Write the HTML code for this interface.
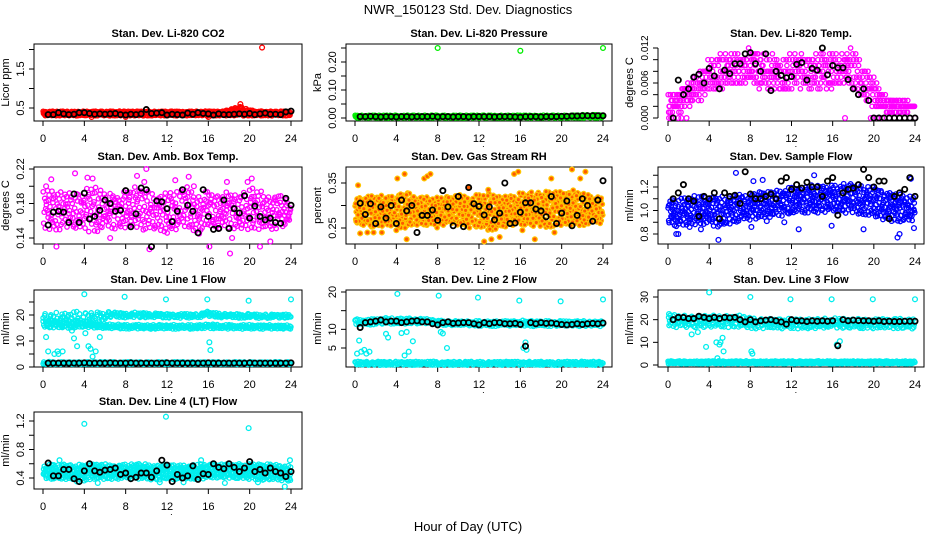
<!DOCTYPE html>
<html><head><meta charset="utf-8"><title>NWR_150123 Std. Dev. Diagnostics</title>
<style>
html,body{margin:0;padding:0;background:#fff;}
svg{display:block;font-family:"Liberation Sans",sans-serif;}
</style></head>
<body>
<svg id="chart" width="936" height="540" viewBox="0 0 936 540" xmlns="http://www.w3.org/2000/svg">
<text x="468" y="14" text-anchor="middle" font-size="13">NWR_150123 Std. Dev. Diagnostics</text>
<text x="468" y="531" text-anchor="middle" font-size="13">Hour of Day (UTC)</text>
</svg>
<script>
// ---------- DATA ----------
const co2Lo=[0.3,0.3,0.3,0.3,0.3,0.3,0.3,0.3,0.3,0.3,0.3,0.3,0.3,0.3,0.3,0.3,0.3,0.3,0.3,0.3,0.3,0.3,0.3,0.3,0.3];
const co2Hi=[0.42,0.42,0.42,0.42,0.42,0.42,0.42,0.42,0.42,0.42,0.42,0.42,0.42,0.42,0.42,0.42,0.42,0.42,0.45,0.56,0.45,0.42,0.42,0.42,0.42];
const co2OutX=[21.2,19.1,4.7,8.0,16.0];
const co2OutY=[2.05,0.6,0.27,0.27,0.27];
const co2Black=[0.33,0.33,0.38,0.35,0.33,0.34,0.38,0.38,0.36,0.34,0.35,0.34,0.35,0.36,0.33,0.32,0.34,0.33,0.35,0.46,0.36,0.37,0.38,0.32,0.34,0.33,0.32,0.37,0.34,0.38,0.36,0.35,0.32,0.35,0.33,0.33,0.34,0.35,0.34,0.36,0.33,0.35,0.37,0.34,0.34,0.33,0.4,0.42];

const presLo=[0,0,0,0,0,0,0,0,0,0,0,0,0,0,0,0,0,0,0,0,0,0,0,0,0];
const presHi=[0.01,0.01,0.01,0.01,0.01,0.01,0.01,0.01,0.01,0.01,0.01,0.01,0.01,0.01,0.01,0.01,0.01,0.01,0.01,0.01,0.01,0.01,0.012,0.012,0.012];
const presOutX=[8,16,24];
const presOutY=[0.25,0.24,0.25];
const presBlack=[0.005,0.005,0.006,0.005,0.004,0.005,0.005,0.004,0.005,0.005,0.004,0.005,0.005,0.005,0.006,0.004,0.005,0.005,0.004,0.005,0.005,0.004,0.005,0.005,0.005,0.005,0.004,0.005,0.005,0.005,0.004,0.003,0.005,0.005,0.005,0.004,0.005,0.005,0.005,0.006,0.006,0.007,0.007,0.008,0.008,0.008,0.008,0.008];

const tempLo=[0.001,0.001,0.002,0.003,0.004,0.005,0.005,0.006,0.006,0.005,0.005,0.004,0.005,0.005,0.005,0.005,0.005,0.006,0.005,0.003,0.002,0.001,0.001,0.001,0.002];
const tempHi=[0.004,0.005,0.006,0.008,0.010,0.011,0.011,0.011,0.012,0.011,0.011,0.010,0.011,0.011,0.011,0.011,0.011,0.011,0.012,0.009,0.007,0.004,0.003,0.003,0.002];
const tempOutX=[0.1,0.3,1.0,1.3,1.8,17.2,19.7,20.0,20.3,20.8,21.5,22,22.5,23,23.5,24];
const tempOutY=[0,0,0,0,0,0,0,0,0,0,0,0,0,0,0,0];
const tempBlack=[0,0.0065,0.004,0.005,0.007,0.0075,0.006,0.0085,0.0072,0.005,0.0082,0.0076,0.0093,0.0093,0.011,0.0112,0.0093,0.008,0.011,0.0047,0.008,0.0073,0.0069,0.0071,0.0092,0.0095,0.0065,0.0085,0.0082,0.012,0.0074,0.009,0.0086,0.0086,0.0066,0.005,0.004,0.005,0.003,0,0,0,0,0,0,0,0,0];

const boxLo=[0.15,0.148,0.15,0.15,0.148,0.145,0.15,0.15,0.152,0.148,0.15,0.148,0.145,0.148,0.15,0.148,0.15,0.15,0.15,0.15,0.148,0.15,0.15,0.15,0.16];
const boxHi=[0.195,0.2,0.195,0.19,0.2,0.2,0.195,0.19,0.195,0.2,0.195,0.19,0.195,0.195,0.2,0.19,0.195,0.19,0.195,0.19,0.2,0.195,0.19,0.19,0.18];
const boxOutX=[0.8,1.3,3.1,4.3,4.8,9.1,9.8,10.3,12.8,14.1,14.6,16.1,17.8,18.1,18.3,19.8,20.2,21.0,22.0,0.3,6.5,15.1,10.0];
const boxOutY=[0.208,0.13,0.215,0.21,0.209,0.212,0.205,0.127,0.207,0.211,0.2,0.13,0.205,0.122,0.14,0.205,0.209,0.13,0.136,0.2,0.14,0.145,0.22];
const boxBlack=[0.155,0.17,0.171,0.17,0.158,0.191,0.158,0.192,0.162,0.165,0.172,0.184,0.18,0.171,0.172,0.195,0.153,0.168,0.198,0.196,0.13,0.183,0.182,0.174,0.159,0.171,0.196,0.178,0.171,0.146,0.196,0.165,0.15,0.151,0.184,0.151,0.174,0.169,0.189,0.163,0.177,0.165,0.161,0.163,0.158,0.157,0.186,0.178];

const rhLo=[0.26,0.255,0.25,0.255,0.25,0.25,0.255,0.255,0.25,0.26,0.255,0.25,0.25,0.24,0.25,0.255,0.255,0.255,0.25,0.25,0.255,0.255,0.255,0.26,0.26];
const rhHi=[0.32,0.32,0.325,0.32,0.325,0.33,0.32,0.32,0.32,0.32,0.325,0.32,0.325,0.33,0.32,0.325,0.33,0.33,0.33,0.335,0.33,0.335,0.33,0.32,0.32];
const rhOutX=[0.3,0.5,1.2,1.8,2.6,4.1,4.8,5.0,6.7,7.0,7.3,11.0,12.5,13.2,14.0,15.4,15.8,17.4,19.0,19.3,21.0,21.8,22.3,4.0,16.2,12.9];
const rhOutY=[0.345,0.238,0.24,0.24,0.24,0.36,0.37,0.225,0.36,0.365,0.37,0.34,0.22,0.225,0.23,0.37,0.375,0.225,0.36,0.24,0.38,0.36,0.375,0.245,0.245,0.335];
const rhBlack=[0.305,0.28,0.304,0.26,0.297,0.272,0.3,0.26,0.312,0.288,0.3,0.24,0.278,0.278,0.29,0.267,0.333,0.297,0.255,0.32,0.253,0.34,0.304,0.298,0.279,0.297,0.268,0.283,0.35,0.26,0.261,0.285,0.306,0.306,0.292,0.288,0.275,0.32,0.26,0.283,0.31,0.255,0.278,0.315,0.3,0.265,0.312,0.355];

const flowLo=[0.88,0.86,0.87,0.88,0.87,0.86,0.88,0.9,0.92,0.93,0.94,0.95,0.97,0.97,0.98,0.98,0.99,0.98,0.97,0.96,0.93,0.92,0.9,0.9,0.92];
const flowHi=[1.1,1.1,1.12,1.13,1.12,1.12,1.13,1.14,1.15,1.16,1.17,1.18,1.2,1.2,1.22,1.22,1.22,1.23,1.23,1.22,1.2,1.18,1.15,1.13,1.12];
const flowOutX=[0.8,1.0,4.9,6.6,8.1,8.3,9.2,12.7,14.2,15.9,19.0,22.3,22.5,23.9,3.2,2.1,23.6,11.3,9.6];
const flowOutY=[0.8,0.8,0.75,1.32,0.86,1.25,1.26,0.84,1.3,0.87,0.84,0.77,0.8,0.85,0.84,0.86,1.27,0.9,0.91];
const flowBlack=[1.1,1.15,1.22,1.1,1.08,0.95,1.12,1.1,1.15,0.93,1.15,1.12,1.13,1.06,1.33,1.14,1.1,1.1,1.12,1.14,1.1,1.25,1.28,1.18,1.22,1.19,1.24,1.2,1.2,1.12,1.25,1.28,0.96,1.15,1.18,1.19,1.22,1.35,1.28,1.2,1.25,1.25,0.93,1.12,1.15,1.18,1.28,1.12];

const l1ALo=[15,15,15,15,15,16,18.5,19,19,19,19,19,18.8,18.8,18.8,19,19.5,19,19,18.8,18.8,18.8,18.8,18.8,18.8];
const l1AHi=[21,21,21,21.5,21.5,21,21.5,21,21,21,20.8,20.8,20.5,20.5,20.5,20.5,21.5,20.8,20.5,20.5,20.5,20.3,20.3,20.3,20.3];
const l1BLo=[15,15,15,15,15,15,14.8,14.8,14.6,14.6,14.6,14.6,14.6,14.6,14.6,14.6,14.8,14.6,14.6,14.6,14.6,14.6,14.6,14.6,14.6];
const l1BHi=[18,18,18,18,18,17,16.6,16.5,16.4,16.3,16.3,16.3,16.3,16.3,16.3,16.3,16.6,16.3,16.3,16.3,16.3,16.2,16.2,16.2,16.2];
const l1CLo=[1,1,1,1,1,1,1,1,1,1,1,1,1,1,1,1,1,1,1,1,1,1,1,1,1];
const l1CHi=[2,2,2,2,2,2,2,2,2,2,2,2,2,2,2,2,2,2,2,2,2,2,2,2,2];
const l1OutX=[0.3,0.5,0.6,1.1,1.4,2.8,3.0,3.3,4.0,4.1,4.4,4.6,4.8,5.1,5.5,7.9,11.9,15.9,16.1,16.2,19.9,24.0,1.5,1.9];
const l1OutY=[11.5,6,2,5,6,14,11,8,28,13,8,7,4,6,11.5,27,26,26,9.5,6.5,25.5,26,5,6];
const l1Black=[1.5,1.5,1.5,1.5,1.5,1.5,1.5,1.6,1.5,1.5,1.5,1.5,1.6,1.5,1.5,1.5,1.6,1.5,1.5,1.5,1.5,1.5,1.5,1.6,1.5,1.5,1.5,1.5,1.5,1.5,1.5,1.6,1.5,1.5,1.5,1.5,1.5,1.5,1.5,1.6,1.5,1.5,1.5,1.5,1.5,1.5,1.5,1.6];

const l2ALo=[11.3,11,11.3,11.5,11.3,11.5,11.5,11.5,11.3,11,11,11,10.8,10.8,10.8,10.8,11,10.8,10.8,10.8,10.8,10.8,10.8,10.8,10.8];
const l2AHi=[13,12.5,13,13.2,13,13,13,12.8,12.5,12.3,12.3,12.3,12.3,12.3,12.3,12.3,12.5,12.3,12.3,12.3,12.3,12.3,12.3,12.3,12.3];
const l2BLo=[0.4,0.4,0.4,0.4,0.4,0.4,0.4,0.4,0.4,0.4,0.4,0.4,0.4,0.4,0.4,0.4,0.4,0.4,0.4,0.4,0.4,0.4,0.4,0.4,0.4];
const l2BHi=[1.4,1.4,1.4,1.4,1.4,1.4,1.4,1.4,1.4,1.4,1.4,1.4,1.4,1.4,1.4,1.4,1.4,1.4,1.4,1.4,1.4,1.4,1.4,1.4,1.4];
const l2OutX=[0.2,0.4,0.6,0.9,1.1,1.4,3.0,3.2,4.1,4.5,4.8,5.0,5.2,5.6,8.1,8.3,8.5,8.9,11.9,15.9,16.3,16.5,16.6,19.9,24.0];
const l2OutY=[3.5,7,4,4.5,3.5,4,8.8,7.8,19.5,9,3,9.3,4,6.8,19,9.3,8.9,5,18.5,17.7,5,6.5,4.5,17.5,18];
const l2Black=[10.5,11.8,12,12.2,12.5,12,12.2,12.2,11.8,12,12.2,12.3,12,12,11.5,11.2,11.8,12,11.6,11.7,11.8,11.8,11.5,11.2,11.8,11.5,11.8,11.8,11.5,11.5,11.6,11.3,5.5,11.8,11.5,11.8,11.6,11.7,11.5,11.3,11.2,11.3,11.5,11.3,11.5,11.6,11.5,11.7];

const l3ALo=[17,16.5,16.5,16.5,16.5,16.5,16.5,16.5,16,16,16,16,16,16,16,16,16.5,16,16,16,16,16,16,16,16];
const l3AHi=[22.5,22,22,22,22,22,22,22,21,20.5,20.5,20.5,20.5,20.5,20.5,20.5,21,20.5,20.5,20.5,20.5,20.5,20.5,20.5,20.5];
const l3BLo=[0.5,0.5,0.5,0.5,0.5,0.5,0.5,0.5,0.5,0.5,0.5,0.5,0.5,0.5,0.5,0.5,0.5,0.5,0.5,0.5,0.5,0.5,0.5,0.5,0.5];
const l3BHi=[1.8,1.8,1.8,1.8,1.8,1.8,1.8,1.8,1.8,1.8,1.8,1.8,1.8,1.8,1.8,1.8,1.8,1.8,1.8,1.8,1.8,1.8,1.8,1.8,1.8];
const l3OutX=[0.1,2.3,2.9,3.7,4.0,4.7,5.0,5.1,5.3,5.4,8.0,8.1,8.2,11.9,15.9,16.4,16.7,19.9,24.0,4.8,2.0];
const l3OutY=[22.5,13.5,14.5,8,32,10,9,10,12,6,30,6,5,29,29,9,10.5,29,29,3,18];
const l3Black=[20,21,21,20.5,20.5,21.5,21,20.5,21,20.5,21,20.8,21,20,19,20,19,19.5,19.8,20,19.5,19,18,20,19.5,19.5,19.2,19.5,19.3,19.5,19.3,19.5,8.5,20,19.5,19.8,19.6,19.5,19.5,19.3,19.5,19.2,19.3,19.2,19.2,19.3,19.3,19.3];

const l4Lo=[0.4,0.38,0.38,0.37,0.36,0.38,0.38,0.38,0.4,0.38,0.38,0.37,0.38,0.38,0.38,0.38,0.4,0.4,0.4,0.38,0.38,0.37,0.37,0.36,0.36];
const l4Hi=[0.57,0.6,0.6,0.58,0.6,0.6,0.6,0.58,0.6,0.6,0.6,0.58,0.6,0.58,0.58,0.6,0.6,0.6,0.6,0.6,0.6,0.6,0.6,0.58,0.58];
const l4OutX=[4.0,11.9,19.9,1.6,5.3,11.3,13.6,15.3,17.6,23.4,23.9,3.3,20.8];
const l4OutY=[1.16,1.26,1.1,0.65,0.33,0.34,0.34,0.65,0.33,0.28,0.65,0.35,0.34];
const l4Black=[0.61,0.43,0.43,0.52,0.52,0.39,0.35,0.5,0.6,0.5,0.48,0.51,0.52,0.54,0.45,0.47,0.39,0.41,0.47,0.47,0.41,0.5,0.65,0.58,0.35,0.45,0.4,0.43,0.57,0.38,0.46,0.45,0.6,0.55,0.53,0.6,0.55,0.49,0.54,0.63,0.49,0.52,0.47,0.54,0.49,0.47,0.42,0.49];

const xTickLabels=["0","4","8","12","16","20","24"];

// ---------- LAYOUT ----------
const NS="http://www.w3.org/2000/svg";
const svg=document.getElementById('chart');
function mk(tag,attrs,parent){const e=document.createElementNS(NS,tag);for(const k in attrs)e.setAttribute(k,attrs[k]);(parent||svg).appendChild(e);return e;}

const panels=[
 {key:'co2',title:'Stan. Dev. Li-820 CO2',ytitle:'Licor ppm',col:0,top:44,bot:121,y1:[0.5,108],y2:[1.5,69],ticks:[0.5,1,1.5,2],labels:[0.5,1.5],fmt:1,color:'#ff0000',n:700,bands:[[co2Lo,co2Hi]],ox:co2OutX,oy:co2OutY,black:co2Black,box:true},
 {key:'pres',title:'Stan. Dev. Li-820 Pressure',ytitle:'kPa',col:1,top:44,bot:121,y1:[0,118],y2:[0.2,62],ticks:[0,0.05,0.1,0.15,0.2,0.25],labels:[0,0.1,0.2],fmt:2,color:'#00ee00',n:500,bands:[[presLo,presHi]],ox:presOutX,oy:presOutY,black:presBlack,box:true},
 {key:'temp',title:'Stan. Dev. Li-820 Temp.',ytitle:'degrees C',col:2,top:44,bot:121,y1:[0,118],y2:[0.012,48],ticks:[0,0.002,0.004,0.006,0.008,0.01,0.012],labels:[0,0.006,0.012],fmt:3,lfs:10,color:'#ff00ff',n:520,quant:0.001,bands:[[tempLo,tempHi]],ox:tempOutX,oy:tempOutY,black:tempBlack,box:false},
 {key:'boxtemp',title:'Stan. Dev. Amb. Box Temp.',ytitle:'degrees C',col:0,top:167,bot:244,y1:[0.22,169],y2:[0.14,238],ticks:[0.14,0.16,0.18,0.2,0.22],labels:[0.14,0.18,0.22],fmt:2,color:'#ff00ff',n:520,bands:[[boxLo,boxHi]],ox:boxOutX,oy:boxOutY,black:boxBlack,box:true},
 {key:'rh',title:'Stan. Dev. Gas Stream RH',ytitle:'percent',col:1,top:167,bot:244,y1:[0.35,183],y2:[0.25,228],ticks:[0.25,0.3,0.35],labels:[0.25,0.35],fmt:2,color:'#ffc400',fill:'#ff5a00',n:800,bands:[[rhLo,rhHi]],ox:rhOutX,oy:rhOutY,black:rhBlack,box:true},
 {key:'flow',title:'Stan. Dev. Sample Flow',ytitle:'ml/min',col:2,top:167,bot:244,y1:[0.8,234],y2:[1.2,187],ticks:[0.8,0.9,1.0,1.1,1.2,1.3],labels:[0.8,1.0,1.2],fmt:1,color:'#0000ff',n:650,bands:[[flowLo,flowHi]],ox:flowOutX,oy:flowOutY,black:flowBlack,box:true},
 {key:'line1',title:'Stan. Dev. Line 1 Flow',ytitle:'ml/min',col:0,top:290,bot:367,y1:[0,367],y2:[20,315],ticks:[0,5,10,15,20,25],labels:[0,10,20],fmt:0,color:'#00eeee',n:320,bands:[[l1ALo,l1AHi],[l1BLo,l1BHi],[l1CLo,l1CHi]],ox:l1OutX,oy:l1OutY,black:l1Black,box:true},
 {key:'line2',title:'Stan. Dev. Line 2 Flow',ytitle:'ml/min',col:1,top:290,bot:367,y1:[5,348],y2:[20,292],ticks:[5,10,15,20],labels:[5,10,20],fmt:0,color:'#00eeee',n:360,bands:[[l2ALo,l2AHi],[l2BLo,l2BHi]],ox:l2OutX,oy:l2OutY,black:l2Black,box:true},
 {key:'line3',title:'Stan. Dev. Line 3 Flow',ytitle:'ml/min',col:2,top:290,bot:367,y1:[0,365],y2:[30,297],ticks:[0,10,20,30],labels:[0,10,20,30],fmt:0,color:'#00eeee',n:380,bands:[[l3ALo,l3AHi],[l3BLo,l3BHi]],ox:l3OutX,oy:l3OutY,black:l3Black,box:true},
 {key:'line4',title:'Stan. Dev. Line 4 (LT) Flow',ytitle:'ml/min',col:0,top:412,bot:489,y1:[0.4,478],y2:[1.2,421],ticks:[0.4,0.6,0.8,1.0,1.2],labels:[0.4,0.8,1.2],fmt:1,color:'#00eeee',n:700,bands:[[l4Lo,l4Hi]],ox:l4OutX,oy:l4OutY,black:l4Black,box:true}
];
const cols=[{left:34,right:302,x0:43,x24:291},{left:346,right:612,x0:355,x24:603},{left:658,right:924,x0:668,x24:915}];

function bandAt(a,t){const i=Math.min(Math.floor(t),23);const f=t-i;return a[i]+(a[i+1]-a[i])*f;}
function halton(i,b){let f=1,r=0;while(i>0){f/=b;r+=f*(i%b);i=Math.floor(i/b);}return r;}

panels.forEach((p,pi)=>{
  const c=cols[p.col];
  const X=v=>c.x0+(c.x24-c.x0)*v/24;
  const Y=v=>p.y1[1]+(p.y2[1]-p.y1[1])*(v-p.y1[0])/(p.y2[0]-p.y1[0]);
  const g=mk('g',{});
  
  
  const t=mk('text',{x:(c.left+c.right)/2,y:p.top-7,'text-anchor':'middle','font-size':11,'font-weight':'bold'},g);
  t.textContent=p.title;
  
  
  if(p.box){
    const r=mk('rect',{x:c.left,y:p.top,width:c.right-c.left,height:p.bot-p.top,fill:'none',stroke:'#000','stroke-width':1},g);
    
    
  }
  const xa=mk('g',{},g);
  
  
  mk('path',{d:`M${X(0)},${p.bot}H${X(24)}`,stroke:'#000',fill:'none'},xa);
  xTickLabels.forEach(l=>{
    const v=+l;
    mk('line',{x1:X(v),x2:X(v),y1:p.bot,y2:p.bot+5,stroke:'#000'},xa);
    const tl=mk('text',{x:X(v),y:p.bot+21,'text-anchor':'middle','font-size':11},xa);
    tl.textContent=l;
    
    
  });
  const dot=mk('text',{x:X(12.3),y:p.bot+26,'font-size':9},xa);dot.textContent='.';
  const ya=mk('g',{},g);
  
  
  mk('path',{d:`M${c.left},${Y(p.ticks[0])}V${Y(p.ticks[p.ticks.length-1])}`,stroke:'#000',fill:'none'},ya);
  p.ticks.forEach(v=>mk('line',{x1:c.left-5,x2:c.left,y1:Y(v),y2:Y(v),stroke:'#000'},ya));
  p.labels.forEach(v=>{
    const yy=Y(v),xx=c.left-10;
    const tl=mk('text',{x:xx,y:yy,'text-anchor':'middle','font-size':p.lfs||11,transform:`rotate(-90 ${xx} ${yy})`},ya);
    tl.textContent=v.toFixed(p.fmt);
    
    
  });
  const ytx=c.left-25,yty=(p.top+p.bot)/2;
  const yt=mk('text',{x:ytx,y:yty,'text-anchor':'middle','font-size':11,transform:`rotate(-90 ${ytx} ${yty})`},ya);
  yt.textContent=p.ytitle;
  
  
  const cg=mk('g',{fill:p.fill||'none',stroke:p.color,'stroke-width':1.3},g);
  
  
  p.bands.forEach((b,bi)=>{
    const n=p.n, off=17+pi*131+bi*977;
    for(let k=0;k<n;k++){
      const tt=halton(k+off,2)*24;
      const f=halton(k+off,3);
      let v=bandAt(b[0],tt)+f*(bandAt(b[1],tt)-bandAt(b[0],tt));
      if(p.quant) v=Math.round(v/p.quant)*p.quant;
      mk('circle',{cx:X(tt).toFixed(1),cy:Y(v).toFixed(1),r:2.2},cg);
    }
  });
  p.ox.forEach((xv,i)=>mk('circle',{cx:X(xv),cy:Y(p.oy[i]),r:2.4},cg));
  const bg=mk('g',{fill:'none',stroke:'#000','stroke-width':1.8},g);
  
  
  const nb=p.black.length;
  p.black.forEach((v,i)=>{
    const xv=0.5+i*(23.5/(nb-1));
    mk('circle',{cx:X(xv),cy:Y(v),r:2.6},bg);
  });
});
</script>
</body></html>
